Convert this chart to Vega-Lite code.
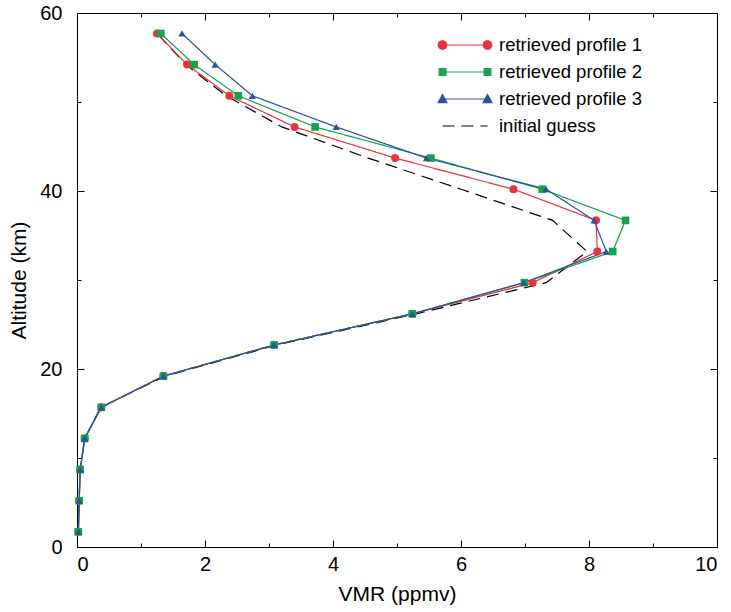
{
  "$schema": "https://vega.github.io/schema/vega-lite/v6.json",
  "width": 640,
  "height": 534,
  "autosize": "none",
  "padding": {"left": 77, "top": 13, "right": 14, "bottom": 65},
  "config": {
    "font": "Liberation Sans",
    "view": {"stroke": "black", "strokeWidth": 1},
    "axis": {
      "grid": false,
      "domainColor": "black",
      "domainWidth": 1,
      "tickColor": "black",
      "tickWidth": 1,
      "labelColor": "black",
      "labelFontSize": 20,
      "titleFontSize": 21,
      "titleFontWeight": "normal",
      "titleColor": "black"
    }
  },
  "data": {
    "values": [
      {"s": "initial guess", "alt": 1.7, "vmr": 0.02},
      {"s": "initial guess", "alt": 5.2, "vmr": 0.03},
      {"s": "initial guess", "alt": 8.7, "vmr": 0.05},
      {"s": "initial guess", "alt": 12.2, "vmr": 0.12},
      {"s": "initial guess", "alt": 15.7, "vmr": 0.37},
      {"s": "initial guess", "alt": 19.2, "vmr": 1.38},
      {"s": "initial guess", "alt": 22.7, "vmr": 3.12},
      {"s": "initial guess", "alt": 26.2, "vmr": 5.3},
      {"s": "initial guess", "alt": 29.7, "vmr": 7.33},
      {"s": "initial guess", "alt": 33.2, "vmr": 7.97},
      {"s": "initial guess", "alt": 36.7, "vmr": 7.43},
      {"s": "initial guess", "alt": 40.2, "vmr": 6.0},
      {"s": "initial guess", "alt": 43.7, "vmr": 4.55},
      {"s": "initial guess", "alt": 47.2, "vmr": 3.2},
      {"s": "initial guess", "alt": 50.7, "vmr": 2.33},
      {"s": "initial guess", "alt": 54.2, "vmr": 1.7},
      {"s": "initial guess", "alt": 57.7, "vmr": 1.25},
      {"s": "retrieved profile 1", "alt": 1.7, "vmr": 0.02},
      {"s": "retrieved profile 1", "alt": 5.2, "vmr": 0.035},
      {"s": "retrieved profile 1", "alt": 8.7, "vmr": 0.05},
      {"s": "retrieved profile 1", "alt": 12.2, "vmr": 0.12},
      {"s": "retrieved profile 1", "alt": 15.7, "vmr": 0.38},
      {"s": "retrieved profile 1", "alt": 19.2, "vmr": 1.35},
      {"s": "retrieved profile 1", "alt": 22.7, "vmr": 3.08},
      {"s": "retrieved profile 1", "alt": 26.2, "vmr": 5.24},
      {"s": "retrieved profile 1", "alt": 29.7, "vmr": 7.12},
      {"s": "retrieved profile 1", "alt": 33.2, "vmr": 8.13},
      {"s": "retrieved profile 1", "alt": 36.7, "vmr": 8.11},
      {"s": "retrieved profile 1", "alt": 40.2, "vmr": 6.82},
      {"s": "retrieved profile 1", "alt": 43.7, "vmr": 4.97},
      {"s": "retrieved profile 1", "alt": 47.2, "vmr": 3.4},
      {"s": "retrieved profile 1", "alt": 50.7, "vmr": 2.38},
      {"s": "retrieved profile 1", "alt": 54.2, "vmr": 1.72},
      {"s": "retrieved profile 1", "alt": 57.7, "vmr": 1.25},
      {"s": "retrieved profile 2", "alt": 1.7, "vmr": 0.02},
      {"s": "retrieved profile 2", "alt": 5.2, "vmr": 0.035},
      {"s": "retrieved profile 2", "alt": 8.7, "vmr": 0.05},
      {"s": "retrieved profile 2", "alt": 12.2, "vmr": 0.12},
      {"s": "retrieved profile 2", "alt": 15.7, "vmr": 0.38},
      {"s": "retrieved profile 2", "alt": 19.2, "vmr": 1.35},
      {"s": "retrieved profile 2", "alt": 22.7, "vmr": 3.08},
      {"s": "retrieved profile 2", "alt": 26.2, "vmr": 5.24},
      {"s": "retrieved profile 2", "alt": 29.7, "vmr": 6.99},
      {"s": "retrieved profile 2", "alt": 33.2, "vmr": 8.37},
      {"s": "retrieved profile 2", "alt": 36.7, "vmr": 8.57},
      {"s": "retrieved profile 2", "alt": 40.2, "vmr": 7.27},
      {"s": "retrieved profile 2", "alt": 43.7, "vmr": 5.53},
      {"s": "retrieved profile 2", "alt": 47.2, "vmr": 3.72},
      {"s": "retrieved profile 2", "alt": 50.7, "vmr": 2.52},
      {"s": "retrieved profile 2", "alt": 54.2, "vmr": 1.83},
      {"s": "retrieved profile 2", "alt": 57.7, "vmr": 1.31},
      {"s": "retrieved profile 3", "alt": 1.7, "vmr": 0.025},
      {"s": "retrieved profile 3", "alt": 5.2, "vmr": 0.035},
      {"s": "retrieved profile 3", "alt": 8.7, "vmr": 0.05},
      {"s": "retrieved profile 3", "alt": 12.2, "vmr": 0.12},
      {"s": "retrieved profile 3", "alt": 15.7, "vmr": 0.38},
      {"s": "retrieved profile 3", "alt": 19.2, "vmr": 1.35},
      {"s": "retrieved profile 3", "alt": 22.7, "vmr": 3.08},
      {"s": "retrieved profile 3", "alt": 26.2, "vmr": 5.24},
      {"s": "retrieved profile 3", "alt": 29.7, "vmr": 6.98},
      {"s": "retrieved profile 3", "alt": 33.2, "vmr": 8.27},
      {"s": "retrieved profile 3", "alt": 36.7, "vmr": 8.08},
      {"s": "retrieved profile 3", "alt": 40.2, "vmr": 7.33},
      {"s": "retrieved profile 3", "alt": 43.7, "vmr": 5.46},
      {"s": "retrieved profile 3", "alt": 47.2, "vmr": 4.05},
      {"s": "retrieved profile 3", "alt": 50.7, "vmr": 2.74},
      {"s": "retrieved profile 3", "alt": 54.2, "vmr": 2.16},
      {"s": "retrieved profile 3", "alt": 57.7, "vmr": 1.64}
    ]
  },
  "layer": [
    {
      "mark": {"type": "line", "strokeWidth": 1.2},
      "encoding": {
        "x": {
          "field": "vmr", "type": "quantitative",
          "scale": {"domain": [0, 10], "nice": false, "zero": false},
          "axis": {
            "title": "VMR (ppmv)", "orient": "bottom",
            "values": [0, 1, 2, 3, 4, 5, 6, 7, 8, 9, 10],
            "labelExpr": "datum.value % 2 === 0 ? datum.label : ''",
            "tickSize": {"condition": {"test": "datum.value % 2 === 0", "value": -7}, "value": -4},
            "labelPadding": 14,
            "titlePadding": 9
          }
        },
        "y": {
          "field": "alt", "type": "quantitative",
          "scale": {"domain": [0, 60], "nice": false, "zero": false},
          "axis": {
            "title": "Altitude (km)", "orient": "left",
            "values": [0, 10, 20, 30, 40, 50, 60],
            "labelExpr": "datum.value % 20 === 0 ? datum.label : ''",
            "tickSize": {"condition": {"test": "datum.value % 20 === 0", "value": -7}, "value": -4},
            "labelPadding": 22,
            "titlePadding": 10
          }
        },
        "order": {"field": "alt", "type": "quantitative"},
        "color": {
          "field": "s", "type": "nominal",
          "scale": {
            "domain": ["retrieved profile 1", "retrieved profile 2", "retrieved profile 3", "initial guess"],
            "range": ["#E8333A", "#14A24A", "#2D4FA0", "#000000"]
          },
          "legend": {
            "title": null,
            "orient": "none",
            "legendX": 376,
            "legendY": 20,
            "labelFontSize": 18.5,
            "labelColor": "black",
            "symbolSize": 506,
            "symbolStrokeWidth": 1.2,
            "labelOffset": 22,
            "rowPadding": 5,
            "encode": {
              "symbols": {
                "update": {
                  "shape": {"signal": "datum.value === 'retrieved profile 1' ? 'M-2,0L2,0M-1.62,0A0.38,0.38,0,1,1,-2.38,0A0.38,0.38,0,1,1,-1.62,0ZM2.38,0A0.38,0.38,0,1,1,1.62,0A0.38,0.38,0,1,1,2.38,0Z' : datum.value === 'retrieved profile 2' ? 'M-2,0L2,0M-2.3,-0.3H-1.7V0.3H-2.3ZM1.7,-0.3H2.3V0.3H1.7Z' : datum.value === 'retrieved profile 3' ? 'M-2,0L2,0M-2,-0.4L-1.61,0.32L-2.39,0.32ZM2,-0.4L2.39,0.32L1.61,0.32Z' : 'M-2,0L2,0'"},
                  "fill": {"scale": "color", "field": "value"},
                  "stroke": {"scale": "color", "field": "value"},
                  "strokeDash": {"signal": "datum.value === 'initial guess' ? [13, 7] : [1, 0]"},
                  "strokeWidth": {"value": 1.2},
                  "opacity": {"value": 1}
                }
              }
            }
          }
        },
        "strokeDash": {
          "field": "s", "type": "nominal",
          "scale": {
            "domain": ["retrieved profile 1", "retrieved profile 2", "retrieved profile 3", "initial guess"],
            "range": [[1, 0], [1, 0], [1, 0], [12, 7]]
          },
          "legend": null
        }
      }
    },
    {
      "transform": [{"filter": "datum.s !== 'initial guess'"}],
      "mark": {"type": "point", "filled": true, "opacity": 1},
      "encoding": {
        "x": {"field": "vmr", "type": "quantitative", "axis": null},
        "y": {"field": "alt", "type": "quantitative", "axis": null},
        "color": {"field": "s", "type": "nominal", "legend": null},
        "shape": {
          "field": "s", "type": "nominal",
          "scale": {
            "domain": ["retrieved profile 1", "retrieved profile 2", "retrieved profile 3"],
            "range": ["circle", "square", "triangle-up"]
          },
          "legend": null
        },
        "size": {
          "field": "s", "type": "nominal",
          "scale": {
            "domain": ["retrieved profile 1", "retrieved profile 2", "retrieved profile 3"],
            "range": [64, 52, 90]
          },
          "legend": null
        }
      }
    },
    {
      "mark": {"type": "point", "opacity": 0},
      "encoding": {
        "x": {
          "field": "vmr", "type": "quantitative",
          "axis": {
            "title": null, "orient": "top", "labels": false, "domain": false,
            "values": [0, 1, 2, 3, 4, 5, 6, 7, 8, 9, 10],
            "tickSize": {"condition": {"test": "datum.value % 2 === 0", "value": -7}, "value": -4}
          }
        },
        "y": {
          "field": "alt", "type": "quantitative",
          "axis": {
            "title": null, "orient": "right", "labels": false, "domain": false,
            "values": [0, 10, 20, 30, 40, 50, 60],
            "tickSize": {"condition": {"test": "datum.value % 20 === 0", "value": -7}, "value": -4}
          }
        }
      }
    }
  ],
  "resolve": {"axis": {"x": "independent", "y": "independent"}}
}
